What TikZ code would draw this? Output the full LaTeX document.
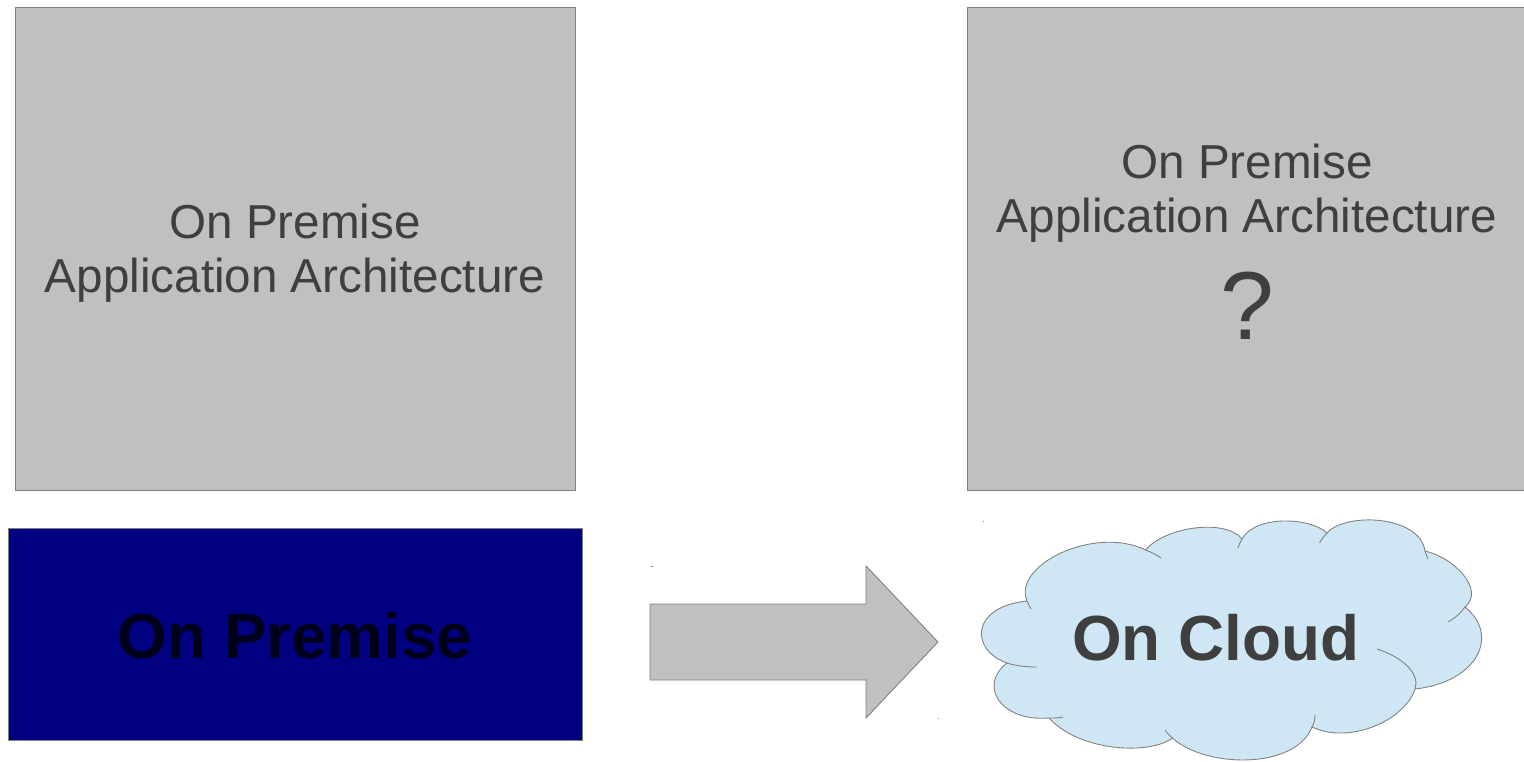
\documentclass[tikz,border=0pt]{standalone}
\usepackage{fontspec}
\setmainfont{Liberation Sans}
\definecolor{boxgray}{HTML}{C0C0C0}
\definecolor{linegray}{HTML}{808080}
\definecolor{textgray}{HTML}{3F3F3F}
\definecolor{cloudblue}{HTML}{CFE7F5}
\definecolor{navyblue}{HTML}{000080}
\definecolor{navytext}{HTML}{00001A}
\tikzstyle{archbox}=[rectangle,fill=boxgray,draw=linegray,line width=0.4pt,minimum width=11.2cm,minimum height=9.66cm,inner sep=0pt]
\tikzstyle{archtext}=[text=textgray,font=\fontsize{27.1pt}{30.4pt}\selectfont,align=center,inner sep=0pt]
\tikzstyle{boldtext}=[font=\fontsize{36.3pt}{40pt}\selectfont\bfseries,inner sep=0pt]
\tikzstyle{outline}=[draw=linegray,line width=0.5pt]
\tikzstyle{speck}=[fill=linegray]

\begin{document}
\begin{tikzpicture}[x=0.02cm,y=-0.02cm]
    \useasboundingbox (0,0) rectangle (1524,761);

    \node[archbox] (onprembox) at (295,248.5) {};
    \node[archbox] (cloudbox) at (1247,248.5) {};
    \node[archtext] (onpremtext) at (295,253) {On Premise\\Application Architecture};
    \node[archtext] (cloudtext) at (1247,193) {On Premise\\Application Architecture};
    \node[text=textgray,font=\fontsize{55pt}{60pt}\selectfont,inner sep=0pt] (question) at (1247,306) {?};

    \node[rectangle,fill=navyblue,draw=linegray,line width=0.4pt,minimum width=11.48cm,minimum height=4.24cm,inner sep=0pt] (premise) at (295,634) {};
    \node[boldtext,text=navytext] (premisetext) at (295,636) {On Premise};

    % block arrow
    \path[fill=boxgray,outline] (650,604) -- (866,604) -- (866,566) -- (938,642) -- (866,718) -- (866,680) -- (650,680) -- cycle;

    % cloud body
    \path[fill=cloudblue,outline]
        (1145.5,550) .. controls (1165,527) and (1225,518) .. (1242,539)
        .. controls (1255,515) and (1310,517) .. (1327,533)
        .. controls (1345,512) and (1420,515) .. (1425,551)
        .. controls (1455,558) and (1485,590) .. (1465,607)
        .. controls (1500,635) and (1478,682) .. (1415,689)
        .. controls (1405,720) and (1350,745) .. (1312,727)
        .. controls (1295,770) and (1205,768) .. (1172.5,738)
        .. controls (1150,755) and (1080,752) .. (1049,718)
        .. controls (1000,722) and (978,685) .. (1007,663)
        .. controls (970,650) and (970,607) .. (1027,601)
        .. controls (1012,565) and (1095,525) .. (1145.5,550)
        -- cycle;

    % inner strokes of the lobes
    \draw[outline] (1145.5,550) .. controls (1151,552) and (1157,555) .. (1161,558);
    \draw[outline] (1242,539) .. controls (1240,542) and (1239,545) .. (1238,548);
    \draw[outline] (1327,533) .. controls (1324,536) and (1321,540) .. (1319.5,543);
    \draw[outline] (1425,551) .. controls (1426,554) and (1427,556) .. (1427.6,559);
    \draw[outline] (1465,607) .. controls (1461,613) and (1455,618) .. (1448,622);
    \draw[outline] (1377,649) .. controls (1405,658) and (1420,675) .. (1415,689);
    \draw[outline] (1315,715) .. controls (1315,720) and (1314,724) .. (1312,727);
    \draw[outline] (1165,730) .. controls (1167,733) and (1170,736) .. (1172.5,738);
    \draw[outline] (1049,718) .. controls (1054,718) and (1059,718) .. (1063,717);
    \draw[outline] (1007,663) .. controls (1016,666) and (1027,667) .. (1037,667);
    \draw[outline] (1027,601) .. controls (1028,604) and (1030,607) .. (1031,609);

    \node[boldtext,text=textgray] (cloudlabel) at (1215.5,638) {On Cloud};

    % stray marks
    \fill[speck] (983,520.5) rectangle (984,521.5);
    \fill[speck] (651,566) rectangle (653,567);
    \fill[speck] (938,717.5) rectangle (939,718.5);
\end{tikzpicture}
\end{document}
